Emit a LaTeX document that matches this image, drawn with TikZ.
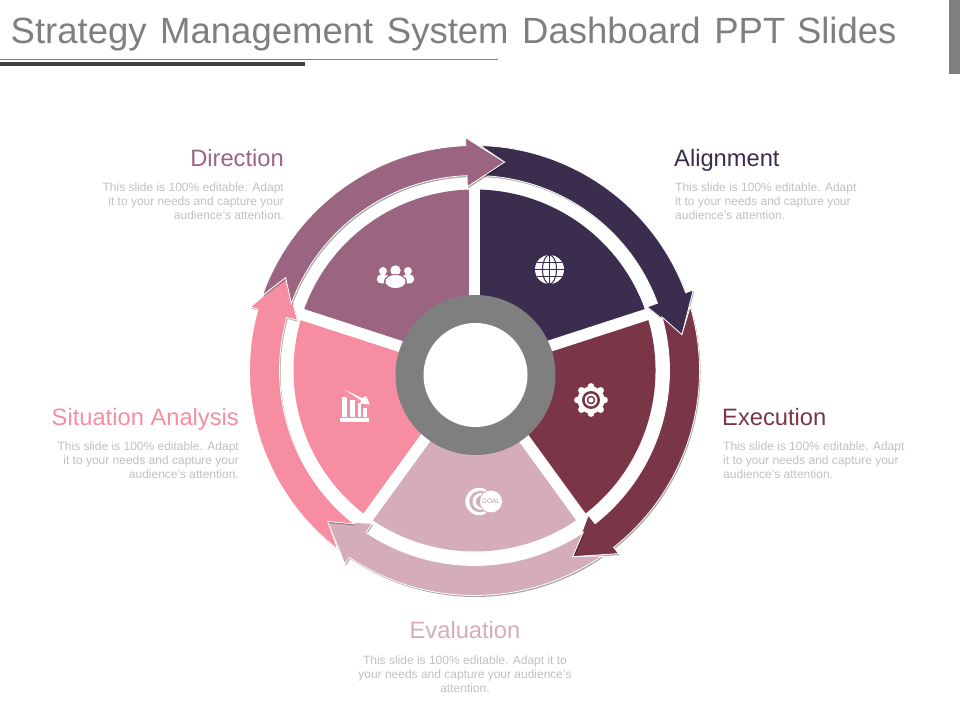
\documentclass[tikz,border=0pt]{standalone}
\usepackage{fontspec}
\setmainfont{Liberation Sans}
\usetikzlibrary{positioning,shadows}

\definecolor{dirplum}{HTML}{9B6480}
\definecolor{alignnavy}{HTML}{3A2D4E}
\definecolor{execwine}{HTML}{7A3646}
\definecolor{evalrose}{HTML}{D5ACB9}
\definecolor{sitpink}{HTML}{F78DA0}
\definecolor{ringgray}{HTML}{7F7F7F}
\definecolor{bodygray}{HTML}{C0C0C0}

\tikzset{
	headline/.style={anchor=base west,inner sep=0pt,text=ringgray,font=\fontsize{36.5}{36}\selectfont},
	steplabel/.style={inner sep=0pt,font=\fontsize{23.7}{24}\selectfont},
	steptext/.style={inner sep=0pt,text=bodygray,font=\fontsize{12}{14}\selectfont},
	bandshape/.style={draw=white,line width=0.8pt,line join=miter,drop shadow={shadow xshift=1pt,shadow yshift=-1.5pt,opacity=.35,fill=black}},
	gapline/.style={draw=white,line width=11.5pt}
}

\newcommand{\sectorfill}[3]{\fill[#1,shift={(c)}] (0,0) -- (#2:181) arc[start angle=#2,end angle=#3,radius=181] -- cycle;}
\newcommand{\bandarrow}[2]{\draw[bandshape,fill=#2,shift={(c)},rotate=#1] (88.5:225) arc[start angle=88.5,end angle=20.2,radius=225] -- (20.2:233) -- (9.8:210.5) -- (20.2:184) -- (20.2:195) arc[start angle=20.2,end angle=87.9,radius=195] -- (81.8:210.5) -- cycle;}

\begin{document}
\begin{tikzpicture}[x=1pt,y=1pt]
	\useasboundingbox (0,0) rectangle (960,720);
	\coordinate (c) at (474.5,349.5);
	\coordinate (r) at (475.5,345);

	% title
	\node[headline] (title) at (10.5,676) {Strategy\hspace{3.5pt} Management\hspace{3.5pt} System\hspace{3.5pt} Dashboard\hspace{3.5pt} PPT\hspace{1.5pt} Slides};
	\fill[ringgray] (0,659.5) rectangle (498,661);
	\fill[black!75] (0,653.5) rectangle (305,657.5);
	\fill[ringgray] (949,646) rectangle (960,720);

	% slices
	\sectorfill{alignnavy}{90}{18}
	\sectorfill{execwine}{18}{-54}
	\sectorfill{evalrose}{-54}{-126}
	\sectorfill{sitpink}{-126}{-198}
	\sectorfill{dirplum}{162}{90}
	\draw[gapline] (c) -- ++(90:186);
	\draw[gapline] (c) -- ++(18:186);
	\draw[gapline] (c) -- ++(-54:186);
	\draw[gapline] (c) -- ++(-126:186);
	\draw[gapline] (c) -- ++(162:186);
	\fill[ringgray] (r) circle (80);
	\fill[white] (r) circle (52);

	% arrows
	\bandarrow{0}{alignnavy}
	\bandarrow{-72}{execwine}
	\bandarrow{-144}{evalrose}
	\bandarrow{-216}{sitpink}
	\bandarrow{-288}{dirplum}

	% people
	\fill[white] (383,449) circle (4);
	\fill[white] (408,449) circle (4);
	\fill[white,rounded corners=4pt] (377,436.5) rectangle (389,445.5);
	\fill[white,rounded corners=4pt] (402,436.5) rectangle (414,445.5);
	\fill[dirplum] (395.5,449.5) circle (6.5);
	\fill[white] (395.5,449.5) circle (5.2);
	\fill[dirplum] (395.5,438.5) ellipse (11.5 and 7.5);
	\fill[white] (395.5,438.5) ellipse (10 and 6.5);

	% globe
	\fill[white] (549.5,450.5) circle (14.5);
	\draw[alignnavy,line width=1pt] (549.5,450.5) ellipse (7 and 14.5);
	\draw[alignnavy,line width=1pt] (549.5,436) -- (549.5,465);
	\draw[alignnavy,line width=1pt] (535,450.5) -- (564,450.5);
	\draw[alignnavy,line width=1pt] (537,457.5) -- (562,457.5);
	\draw[alignnavy,line width=1pt] (537,443.5) -- (562,443.5);

	% gear
	\fill[white] (591,320) circle (13.5);
	\foreach \a in {0,45,...,315}
		\fill[white] (591,320) ++(\a:13.5) circle (3.4);
	\fill[execwine] (591,320) circle (9);
	\fill[white] (591,320) circle (6.3);
	\fill[execwine] (591,320) circle (4.3);
	\fill[white] (591,320) circle (2.6);

	% goal
	\fill[white] (479,218.5) circle (13.7);
	\fill[evalrose] (480,218.5) circle (10.7);
	\fill[white] (481,218.5) circle (8.5);
	\fill[evalrose] (482,218.5) circle (6);
	\fill[evalrose] (491,218.5) circle (12);
	\fill[white] (491,218.5) circle (11);
	\node[inner sep=0pt,text=evalrose!70!gray,font=\fontsize{6.5}{6.5}\selectfont] (goal) at (491,218.5) {GOAL};

	% chart
	\fill[white] (340,298) rectangle (369,302);
	\fill[white] (342,303) rectangle (347,323);
	\fill[white] (350,303) rectangle (355,320);
	\fill[white] (357.5,303) rectangle (361,317);
	\fill[white] (363,303) rectangle (366.5,312);
	\fill[white] (345,330) -- (362,322) -- (366,324) -- (370,315.5) -- (360,316.5) -- (361,319.5) -- cycle;

	% labels
	\node[steplabel,text=dirplum,anchor=base east] (direction) at (284,553) {Direction};
	\node[steptext,align=right,anchor=east] (directiontext) at (284,519) {This slide is 100\% editable. Adapt\\it to your needs and capture your\\audience's attention.};
	\node[steplabel,text=alignnavy,anchor=base west] (alignment) at (674,553) {Alignment};
	\node[steptext,align=left,anchor=west] (alignmenttext) at (675,519) {This slide is 100\% editable. Adapt\\it to your needs and capture your\\audience's attention.};
	\node[steplabel,text=execwine,anchor=base west] (execution) at (722,294) {Execution};
	\node[steptext,align=left,anchor=west] (executiontext) at (723,260) {This slide is 100\% editable. Adapt\\it to your needs and capture your\\audience's attention.};
	\node[steplabel,text=sitpink,anchor=base east] (situation) at (239,294) {Situation Analysis};
	\node[steptext,align=right,anchor=east] (situationtext) at (239,260) {This slide is 100\% editable. Adapt\\it to your needs and capture your\\audience's attention.};
	\node[steplabel,text=evalrose,anchor=base] (evaluation) at (465,82) {Evaluation};
	\node[steptext,align=center] (evaluationtext) at (465,46) {This slide is 100\% editable. Adapt it to\\your needs and capture your audience's\\attention.};
\end{tikzpicture}
\end{document}
